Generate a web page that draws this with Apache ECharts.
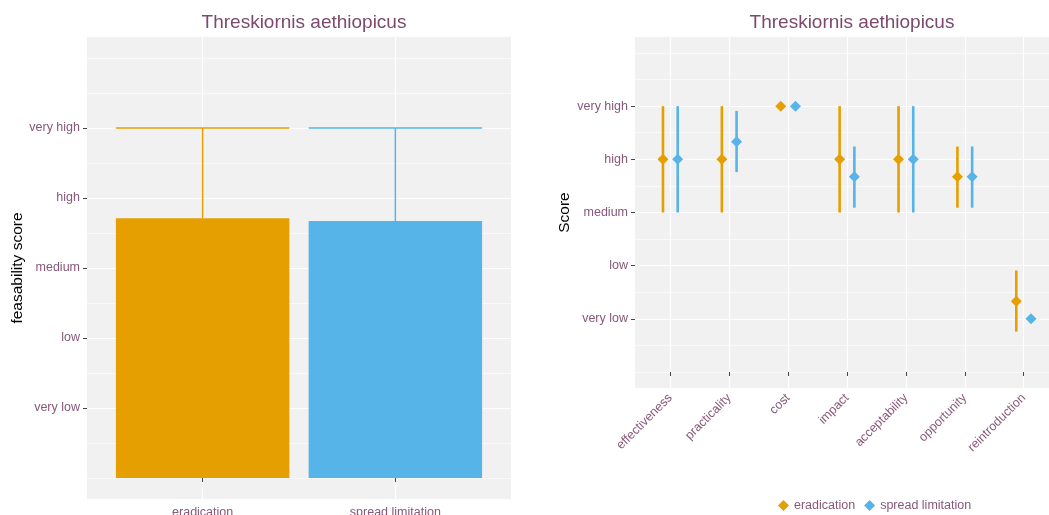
<!DOCTYPE html>
<html>
<head>
<meta charset="utf-8">
<script src="https://cdn.jsdelivr.net/npm/echarts@6/dist/echarts.min.js"></script>
<style>
  html, body { margin: 0; padding: 0; background: #fff; }
  #chart { width: 1049px; height: 515px; }
</style>
</head>
<body>
<div id="chart"></div>
<script>
// score levels (1..5)
var levels = ['very low', 'low', 'medium', 'high', 'very high'];
var levelValues = [1, 2, 3, 4, 5];
var minorValues = [0, 0.5, 1.5, 2.5, 3.5, 4.5, 5.5, 6];

// left panel: mean feasibility per strategy, error bar top
var strategies = ['eradication', 'spread limitation'];
var feasMean = [3.71, 3.67];
var feasMax = [5, 5];

// right panel: score per criterion (mean, low, high)
var criteria = ['effectiveness', 'practicality', 'cost', 'impact', 'acceptability', 'opportunity', 'reintroduction'];
var eradMean = [4, 4, 5, 4, 4, 3.67, 1.33];
var eradLow = [3, 3, 5, 3, 3, 3.09, 0.76];
var eradHigh = [5, 5, 5, 5, 5, 4.24, 1.91];
var spreadMean = [4, 4.33, 5, 3.67, 4, 3.67, 1];
var spreadLow = [3, 3.76, 5, 3.09, 3, 3.09, 1];
var spreadHigh = [5, 4.91, 5, 4.24, 5, 4.24, 1];

var ORANGE = '#E69F00';
var BLUE = '#56B4E9';
var TITLE_COLOR = '#7B4A6C';
var LABEL_COLOR = '#87587A';
var FONT = '"Liberation Sans", Arial, sans-serif';
var dodge = 0.125;

var chart = echarts.init(document.getElementById('chart'));

function idx(arr) {
  return arr.map(function (v, i) { return i + 1; });
}

// bars drawn from 0 up to the mean, width 0.9 units
function renderBar(params, api) {
  var x = api.value(0), y = api.value(1);
  var p0 = api.coord([x - 0.45, 0]);
  var p1 = api.coord([x + 0.45, y]);
  return {
    type: 'rect',
    shape: { x: p0[0], y: p1[1], width: p1[0] - p0[0], height: p0[1] - p1[1] },
    style: { fill: [ORANGE, BLUE][params.dataIndex] }
  };
}

// error bar: stem from mean to max + cap
function renderErrorBar(params, api) {
  var x = api.value(0), y0 = api.value(1), y1 = api.value(2);
  var top = api.coord([x, y1]);
  var bot = api.coord([x, y0]);
  var l = api.coord([x - 0.45, y1]);
  var r = api.coord([x + 0.45, y1]);
  var col = [ORANGE, BLUE][params.dataIndex];
  return {
    type: 'group',
    children: [
      { type: 'line', shape: { x1: top[0], y1: top[1], x2: bot[0], y2: bot[1] }, style: { stroke: col, lineWidth: 1.5 } },
      { type: 'line', shape: { x1: l[0], y1: l[1], x2: r[0], y2: r[1] }, style: { stroke: col, lineWidth: 1.5 } }
    ]
  };
}

function rangeRenderer(color) {
  return function (params, api) {
    var x = api.value(0);
    var a = api.coord([x, api.value(1)]);
    var b = api.coord([x, api.value(2)]);
    return { type: 'line', shape: { x1: a[0], y1: a[1], x2: b[0], y2: b[1] }, style: { stroke: color, lineWidth: 2.6 } };
  };
}

var strategyIdx = idx(strategies);
var critIdx = idx(criteria);

function yMajor(gridIndex, nameText, gap) {
  return {
    type: 'value', gridIndex: gridIndex, min: -0.3, max: 6.3,
    name: nameText, nameLocation: 'middle', nameGap: gap,
    nameTextStyle: { color: '#000', fontSize: 15.5, fontFamily: FONT },
    axisLine: { show: false },
    axisTick: { show: true, length: 4, lineStyle: { color: '#444' }, customValues: levelValues },
    axisLabel: {
      color: LABEL_COLOR, fontSize: 12.5, fontFamily: FONT, margin: 7,
      customValues: levelValues,
      formatter: function (v) { return levels[Math.round(v) - 1]; }
    },
    splitLine: { show: true, lineStyle: { color: '#ffffff', width: 1.2 } }
  };
}

function yMinor(gridIndex) {
  return {
    type: 'value', gridIndex: gridIndex, min: -0.3, max: 6.3, position: 'left',
    axisLine: { show: false },
    axisTick: { show: false, customValues: minorValues },
    axisLabel: { show: false, customValues: minorValues },
    splitLine: { show: true, lineStyle: { color: '#ffffff', width: 0.6 } }
  };
}

var option = {
  backgroundColor: '#ffffff',
  animation: false,
  title: [
    { text: 'Threskiornis aethiopicus', left: 299, top: 8, textAlign: 'center',
      textStyle: { color: TITLE_COLOR, fontSize: 19, fontWeight: 'normal', fontFamily: FONT } },
    { text: 'Threskiornis aethiopicus', left: 847, top: 8, textAlign: 'center',
      textStyle: { color: TITLE_COLOR, fontSize: 19, fontWeight: 'normal', fontFamily: FONT } }
  ],
  grid: [
    { left: 87, top: 37, width: 424, height: 462, show: true, backgroundColor: '#F1F1F1', borderWidth: 0,
      outerBoundsMode: 'none', containLabel: false },
    { left: 635, top: 37, width: 424, height: 351, show: true, backgroundColor: '#F1F1F1', borderWidth: 0,
      outerBoundsMode: 'none', containLabel: false }
  ],
  legend: {
    left: 773, top: 494, itemWidth: 11, itemHeight: 11, itemGap: 9,
    icon: 'diamond',
    textStyle: { color: LABEL_COLOR, fontSize: 12.5, fontFamily: FONT },
    data: ['eradication', 'spread limitation']
  },
  xAxis: [
    {
      type: 'value', gridIndex: 0, min: 0.4, max: 2.6,
      axisLine: { show: false },
      axisTick: { show: true, length: 4, lineStyle: { color: '#444' }, customValues: strategyIdx },
      axisLabel: {
        color: LABEL_COLOR, fontSize: 12.5, fontFamily: FONT, margin: 7,
        customValues: strategyIdx,
        formatter: function (v) { return strategies[Math.round(v) - 1]; }
      },
      splitLine: { show: true, lineStyle: { color: '#ffffff', width: 1.2 } }
    },
    {
      type: 'value', gridIndex: 1, min: 0.4, max: 7.6,
      axisLine: { show: false },
      axisTick: { show: true, length: 4, lineStyle: { color: '#444' }, customValues: critIdx },
      axisLabel: {
        color: LABEL_COLOR, fontSize: 12.5, fontFamily: FONT, margin: 8, rotate: 45,
        customValues: critIdx,
        formatter: function (v) { return criteria[Math.round(v) - 1]; }
      },
      splitLine: { show: true, lineStyle: { color: '#ffffff', width: 1.2 } }
    }
  ],
  yAxis: [
    yMajor(0, 'feasability score', 61),
    yMajor(1, 'Score', 62),
    yMinor(0),
    yMinor(1)
  ],
  series: [
    {
      type: 'custom', xAxisIndex: 0, yAxisIndex: 0, renderItem: renderErrorBar,
      data: strategyIdx.map(function (x, i) { return [x, feasMean[i], feasMax[i]]; }), z: 2
    },
    {
      type: 'custom', xAxisIndex: 0, yAxisIndex: 0, renderItem: renderBar,
      data: strategyIdx.map(function (x, i) { return [x, feasMean[i]]; }), z: 3
    },
    {
      type: 'custom', xAxisIndex: 1, yAxisIndex: 1, renderItem: rangeRenderer(ORANGE),
      data: critIdx.map(function (x, i) { return [x - dodge, eradLow[i], eradHigh[i]]; }), z: 2
    },
    {
      type: 'custom', xAxisIndex: 1, yAxisIndex: 1, renderItem: rangeRenderer(BLUE),
      data: critIdx.map(function (x, i) { return [x + dodge, spreadLow[i], spreadHigh[i]]; }), z: 2
    },
    {
      name: 'eradication', type: 'scatter', xAxisIndex: 1, yAxisIndex: 1,
      symbol: 'diamond', symbolSize: 11, itemStyle: { color: ORANGE, opacity: 1 },
      data: critIdx.map(function (x, i) { return [x - dodge, eradMean[i]]; }), z: 3
    },
    {
      name: 'spread limitation', type: 'scatter', xAxisIndex: 1, yAxisIndex: 1,
      symbol: 'diamond', symbolSize: 11, itemStyle: { color: BLUE, opacity: 1 },
      data: critIdx.map(function (x, i) { return [x + dodge, spreadMean[i]]; }), z: 3
    }
  ]
};

chart.setOption(option);
</script>
</body>
</html>
